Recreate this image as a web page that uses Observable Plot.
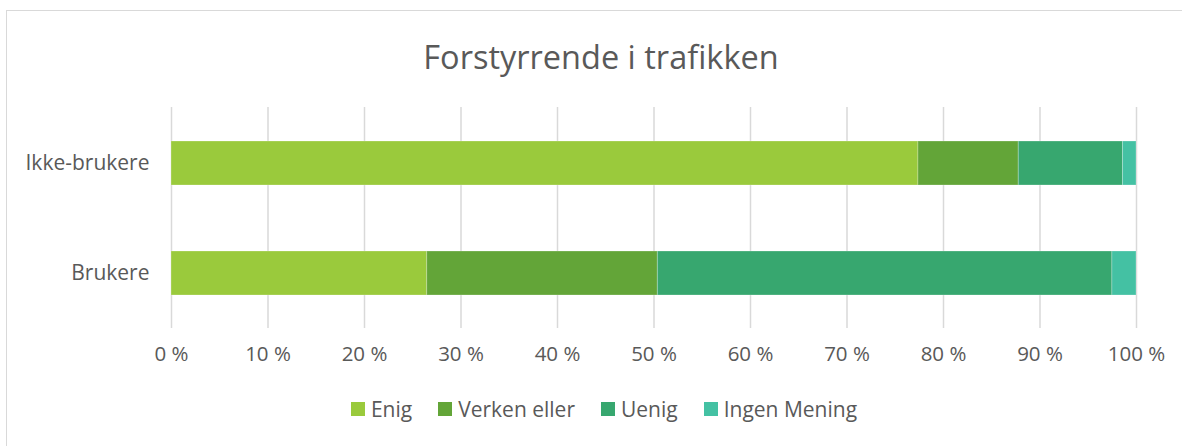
<!DOCTYPE html>
<html>
<head>
<meta charset="utf-8">
<script src="https://cdn.jsdelivr.net/npm/d3@7"></script>
<script src="https://cdn.jsdelivr.net/npm/@observablehq/plot@0.6"></script>
<style>
  html, body { margin: 0; padding: 0; background: #fff; }
  body { width: 1182px; height: 446px; position: relative; overflow: hidden; font-family: "Open Sans", sans-serif; color: #595959; }
  #frame { position: absolute; left: 6px; top: 10px; width: 1200px; height: 460px; border-left: 1px solid #d9d9d9; border-top: 1px solid #d9d9d9; box-sizing: border-box; }
  #title { position: absolute; left: 10px; top: 35px; width: 1182px; text-align: center; font-size: 32.5px; line-height: 44px; color: #595959; }
  #chart { position: absolute; left: 0; top: 100px; }
  #legend { position: absolute; left: 13px; top: 394px; width: 1182px; display: flex; justify-content: center; gap: 26px; font-size: 21px; line-height: 30px; }
  #legend .item { display: flex; align-items: center; gap: 6px; }
  #legend .sw { width: 14px; height: 14px; display: inline-block; }
</style>
</head>
<body>
<div id="frame"></div>
<div id="title">Forstyrrende i trafikken</div>
<div id="chart"></div>
<div id="legend"></div>
<script>
const categories = ["Ikke-brukere", "Brukere"];
const series = ["Enig", "Verken eller", "Uenig", "Ingen Mening"];
const colors = ["#9aca3c", "#63a538", "#37a76f", "#44c1a3"];
const enig = [77.4, 26.5];
const verken = [10.4, 23.9];
const uenig = [10.8, 47.1];
const ingen = [1.4, 2.5];
const xTicks = [0, 10, 20, 30, 40, 50, 60, 70, 80, 90, 100];

const valuesBySeries = [enig, verken, uenig, ingen];
const data = [];
categories.forEach((c, i) => {
  series.forEach((s, j) => {
    data.push({group: c, answer: s, value: valuesBySeries[j][i]});
  });
});

const plot = Plot.plot({
  width: 1182,
  height: 280,
  marginLeft: 171,
  marginRight: 46,
  marginTop: 7,
  marginBottom: 52,
  style: {fontFamily: "'Open Sans', sans-serif", fontSize: "21px", color: "#595959", background: "transparent"},
  x: {domain: [0, 100], ticks: xTicks, tickFormat: d => `${d} %`, tickSize: 0, tickPadding: 18, label: null},
  y: {domain: categories, paddingInner: 0.6, paddingOuter: 0.3, tickSize: 0, tickPadding: 22, label: null},
  color: {domain: series, range: colors},
  marks: [
    Plot.ruleX(xTicks, {stroke: "#d9d9d9", strokeWidth: 1.5, strokeOpacity: 1}),
    Plot.barX(data, Plot.stackX({x: "value", y: "group", fill: "answer", order: series, stroke: "white", strokeOpacity: 0.25, strokeWidth: 1})),
    Plot.axisX({ticks: xTicks, tickFormat: d => `${d} %`, tickSize: 0, tickPadding: 18, fontSize: 20.5, fill: "#595959"}),
    Plot.axisY({tickSize: 0, tickPadding: 22, fontSize: 21, fill: "#595959"})
  ]
});
document.getElementById("chart").appendChild(plot);

const legend = document.getElementById("legend");
series.forEach((s, i) => {
  const item = document.createElement("div");
  item.className = "item";
  const sw = document.createElement("span");
  sw.className = "sw";
  sw.style.background = colors[i];
  const t = document.createElement("span");
  t.textContent = s;
  item.appendChild(sw);
  item.appendChild(t);
  legend.appendChild(item);
});
</script>
</body>
</html>
